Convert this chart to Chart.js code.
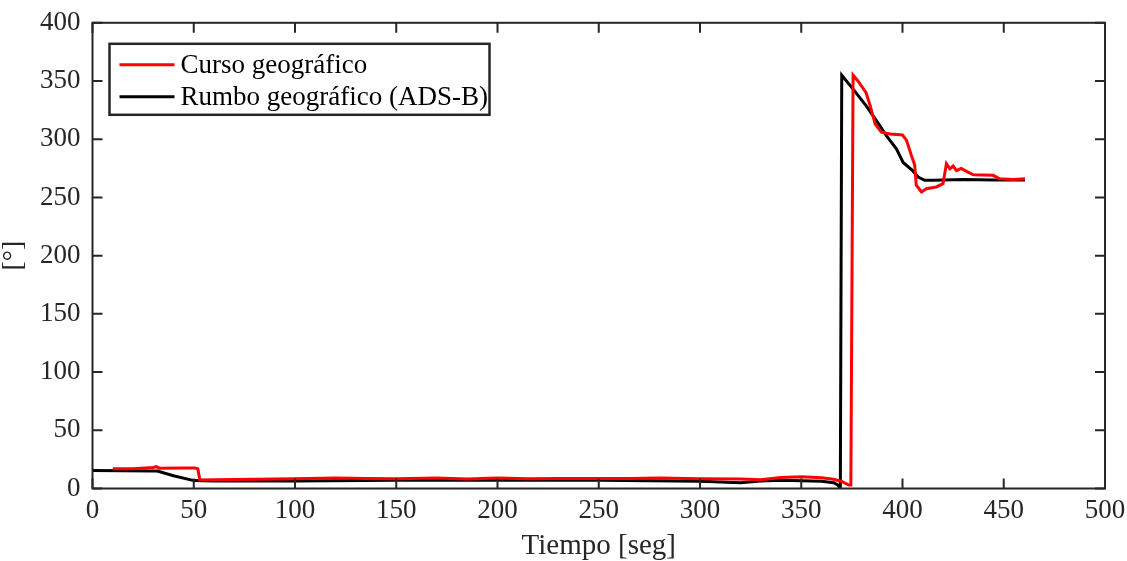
<!DOCTYPE html>
<html>
<head>
<meta charset="utf-8">
<script src="https://cdn.jsdelivr.net/npm/chart.js@4/dist/chart.umd.min.js"></script>
<style>
  html, body { margin: 0; padding: 0; background: #fff; }
  #wrap { width: 1127px; height: 561px; }
</style>
</head>
<body>
<div id="wrap"><canvas id="myChart"></canvas></div>
<script>
"use strict";
// Curso geográfico (red)
const cursoX = [10, 20, 30, 31.5, 33, 45, 50.4, 52, 53, 60, 80, 100, 120, 135, 150, 170, 185, 200, 215, 230, 250, 265, 280, 300, 320, 330, 340, 350, 360, 366, 370, 373.5, 374.5, 375.6, 378, 382, 384, 386.5, 389.6, 393.8, 400, 402, 404.4, 406, 406.8, 409.4, 411.8, 416.7, 420, 421.7, 423.4, 425, 426.7, 429, 431.6, 435, 444.7, 448, 454.7, 460.5];
const cursoY = [17, 17, 18, 18.8, 17.5, 17.6, 17.7, 17, 7.4, 7.5, 8, 8.3, 9, 8.5, 8.3, 9, 8.2, 9, 8.3, 8.5, 8.5, 8.6, 9, 8.4, 8.2, 7.5, 9.5, 10, 9.2, 8, 6, 3, 3, 355, 350, 340, 329, 313, 306, 304.5, 303.7, 299, 286, 278, 260.6, 254.7, 257.5, 259, 261.8, 279, 274.6, 277, 273, 275, 272.4, 269.5, 269, 266, 265.5, 266];
// Rumbo geográfico ADS-B (black)
const rumboX = [0, 15, 30, 32, 40, 50, 60, 100, 150, 200, 250, 300, 320, 330, 340, 360, 366, 368, 369.3, 370, 375.6, 382, 388.8, 392, 397, 400.3, 405, 407.7, 411, 415, 430, 445, 460.5];
const rumboY = [15.4, 15.2, 15, 15, 11, 6.8, 6.5, 6.5, 7, 7, 7, 6.3, 5, 6.5, 7, 6.3, 5, 3, 0.5, 355, 343, 328.8, 311.7, 303, 291.7, 280, 273, 267.5, 264.7, 264.7, 265.5, 265, 265];
const xTicks = [0, 50, 100, 150, 200, 250, 300, 350, 400, 450, 500];
const yTicks = [0, 50, 100, 150, 200, 250, 300, 350, 400];
const labels = ['Curso geográfico', 'Rumbo geográfico (ADS-B)'];
const colors = ['#ff0000', '#000000'];

const serif = '"Liberation Serif", "Times New Roman", serif';
const axisColor = '#262626';

function toPoints(xs, ys) {
  let pts = [];
  for (let i = 0; i < xs.length; i++) {
    pts.push({ x: xs[i], y: ys[i] });
  }
  return pts;
}

// box, inward ticks and legend in the MATLAB style
const boxPlugin = {
  id: 'boxPlugin',
  afterDraw(chart) {
    const ctx = chart.ctx;
    const a = chart.chartArea;
    const xs = chart.scales.x;
    const ys = chart.scales.y;
    ctx.save();
    ctx.strokeStyle = axisColor;
    ctx.lineWidth = 2;
    ctx.strokeRect(a.left, a.top, a.right - a.left, a.bottom - a.top);
    const len = 10;
    ctx.beginPath();
    xTicks.forEach(v => {
      const px = xs.getPixelForValue(v);
      ctx.moveTo(px, a.bottom); ctx.lineTo(px, a.bottom - len);
      ctx.moveTo(px, a.top); ctx.lineTo(px, a.top + len);
    });
    yTicks.forEach(v => {
      const py = ys.getPixelForValue(v);
      ctx.moveTo(a.left, py); ctx.lineTo(a.left + len, py);
      ctx.moveTo(a.right, py); ctx.lineTo(a.right - len, py);
    });
    ctx.stroke();

    // legend
    const lx = a.left + 17, ly = a.top + 21, lw = 380, lh = 71;
    ctx.fillStyle = '#fff';
    ctx.fillRect(lx, ly, lw, lh);
    ctx.strokeStyle = '#262626';
    ctx.lineWidth = 2.5;
    ctx.strokeRect(lx, ly, lw, lh);
    ctx.font = '27px ' + serif;
    ctx.textBaseline = 'middle';
    for (let i = 0; i < labels.length; i++) {
      const yy = ly + 21 + i * 32;
      ctx.strokeStyle = colors[i];
      ctx.lineWidth = 3;
      ctx.beginPath();
      ctx.moveTo(lx + 10, yy); ctx.lineTo(lx + 65, yy);
      ctx.stroke();
      ctx.fillStyle = '#000';
      ctx.fillText(labels[i], lx + 71, yy + 1);
    }
    ctx.restore();
  }
};

const data = {
  datasets: [{
    label: labels[0],
    data: toPoints(cursoX, cursoY),
    borderColor: colors[0],
    borderWidth: 3,
    pointRadius: 0,
    tension: 0
  },
  {
    label: labels[1],
    data: toPoints(rumboX, rumboY),
    borderColor: colors[1],
    borderWidth: 3,
    pointRadius: 0,
    tension: 0
  }]
};

const config = {
  type: 'line',
  data: data,
  options: {
    responsive: true,
    maintainAspectRatio: false,
    animation: false,
    layout: { padding: { top: 0, right: 22, bottom: 2, left: 0 } },
    plugins: {
      legend: { display: false },
      tooltip: { enabled: false }
    },
    scales: {
      x: {
        type: 'linear',
        min: 0,
        max: 500,
        afterBuildTicks: s => { s.ticks = xTicks.map(v => ({ value: v })); },
        afterFit: s => { s.paddingRight = 0; },
        grid: { display: false, drawTicks: false },
        border: { display: false },
        ticks: { color: '#262626', font: { family: serif, size: 27 }, padding: 6, maxRotation: 0 },
        title: { display: true, text: 'Tiempo [seg]', color: '#262626', font: { family: serif, size: 29, lineHeight: 0.9 }, padding: { top: 0, bottom: 0 } }
      },
      y: {
        type: 'linear',
        min: 0,
        max: 400,
        afterBuildTicks: s => { s.ticks = yTicks.map(v => ({ value: v })); },
        grid: { display: false, drawTicks: false },
        border: { display: false },
        ticks: { color: '#262626', font: { family: serif, size: 27, lineHeight: 0.8 }, padding: 12 },
        title: { display: true, text: '[°]', color: '#262626', font: { family: serif, size: 28, lineHeight: 1 }, padding: { top: 0, bottom: 0 } }
      }
    }
  },
  plugins: [boxPlugin]
};

let canvasChart = document.getElementById('myChart');
const myChart = new Chart(canvasChart, config);
</script>
</body>
</html>
